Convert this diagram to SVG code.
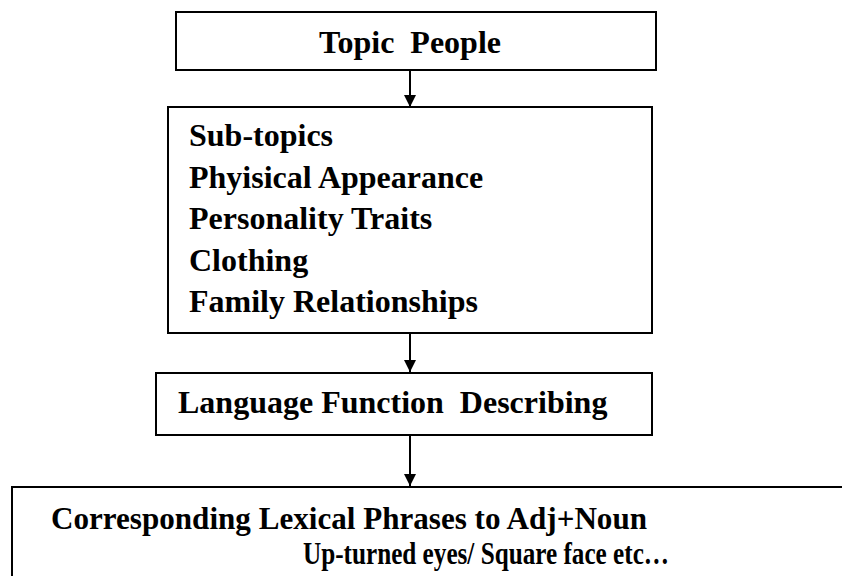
<svg xmlns="http://www.w3.org/2000/svg" width="842" height="576" viewBox="0 0 842 576">
<defs>
<style>
.box{fill:#fff;stroke:#000;stroke-width:2}
.t{font-family:'Liberation Serif','Times New Roman','DejaVu Serif',serif;font-weight:700;font-size:32px;fill:#000}
.c{stroke:#000;stroke-width:2;fill:none}
</style>
<marker id="ah" markerWidth="12" markerHeight="14" refX="10" refY="5" orient="auto" markerUnits="userSpaceOnUse" viewBox="0 0 10 10">
<path d="M0,0 L10,5 L0,10 z" fill="#000"/>
</marker>
</defs>
<rect width="842" height="576" fill="#fff"/>
<g id="connectors">
<line class="c" x1="410" y1="70" x2="410" y2="107" marker-end="url(#ah)"/>
<line class="c" x1="410" y1="333" x2="410" y2="372" marker-end="url(#ah)"/>
<line class="c" x1="410" y1="435" x2="410" y2="486" marker-end="url(#ah)"/>
</g>
<g id="node-topic">
<rect class="box" x="176" y="12" width="480" height="58"/>
<text class="t" x="410" y="53" text-anchor="middle" xml:space="preserve">Topic  People</text>
</g>
<g id="node-subtopics">
<rect class="box" x="168" y="107" width="484" height="226"/>
<text class="t" x="189" y="146">Sub-topics</text>
<text class="t" x="189" y="188">Phyisical Appearance</text>
<text class="t" x="189" y="229">Personality Traits</text>
<text class="t" x="189" y="271">Clothing</text>
<text class="t" x="189" y="312">Family Relationships</text>
</g>
<g id="node-function">
<rect class="box" x="156" y="373" width="496" height="62"/>
<text class="t" x="178" y="413" xml:space="preserve">Language Function  Describing</text>
</g>
<g id="node-lexical">
<rect class="box" x="12" y="487" width="840" height="100"/>
<text class="t" x="51" y="529" font-size="36" textLength="596" lengthAdjust="spacingAndGlyphs">Corresponding Lexical Phrases to Adj+Noun</text>
<text class="t" x="303" y="564" font-size="33" textLength="366" lengthAdjust="spacingAndGlyphs">Up-turned eyes/ Square face etc…</text>
</g>
</svg>
